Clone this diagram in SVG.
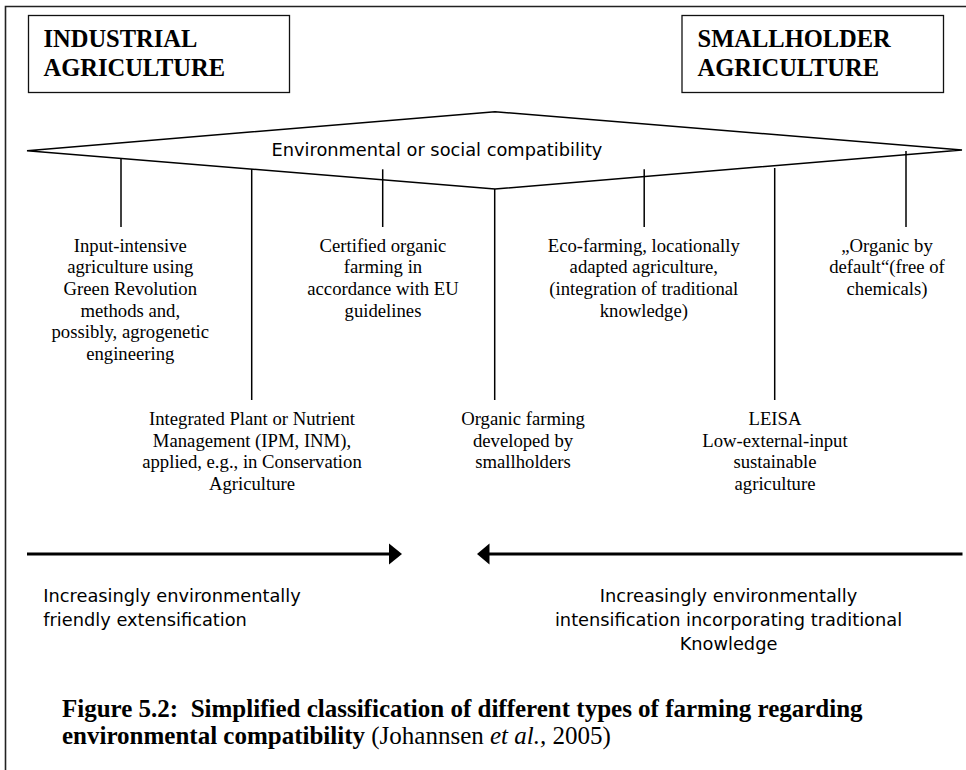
<svg xmlns="http://www.w3.org/2000/svg" width="966" height="770" viewBox="0 0 966 770">
<style>
.frame{fill:none;stroke:#222;stroke-width:1.6}
.box{fill:#fff;stroke:#111;stroke-width:1.3}
.conn{stroke:#000;stroke-width:1.5;fill:none}
.arrow{stroke:#000;stroke-width:3;fill:none}
.head{fill:#000}
.title{font-family:"Liberation Serif","Times New Roman",serif;font-weight:bold;font-size:24.5px;fill:#000}
.lbl{font-family:"Liberation Serif","Times New Roman",serif;font-size:18.7px;fill:#000;text-anchor:middle}
.sans{font-family:"DejaVu Sans",Verdana,sans-serif;font-size:17.8px;fill:#000}
.cap{font-family:"Liberation Serif","Times New Roman",serif;font-size:25px;fill:#000}
</style>
<rect width="966" height="770" fill="#fff"/>
<path class="frame" d="M5.5 770 V6.5 H966"/>

<g id="industrial">
<rect class="box" x="28.5" y="15.5" width="261" height="77"/>
<text class="title" x="43.5" y="47.3">INDUSTRIAL</text>
<text class="title" x="43.5" y="76">AGRICULTURE</text>
</g>

<g id="smallholder">
<rect class="box" x="682" y="15.5" width="261.5" height="77"/>
<text class="title" x="697.5" y="47.3">SMALLHOLDER</text>
<text class="title" x="697.5" y="76">AGRICULTURE</text>
</g>

<g id="compatibility">
<polygon points="27,150.7 495,111.7 962,150 495,189" fill="#fff" stroke="#000" stroke-width="1.5"/>
<text class="sans" x="271.5" y="155.5">Environmental or social compatibility</text>
</g>

<g id="connectors">
<line class="conn" x1="121" y1="158.5" x2="121" y2="227"/>
<line class="conn" x1="251.7" y1="169" x2="251.7" y2="400"/>
<line class="conn" x1="382.7" y1="169.3" x2="382.7" y2="227"/>
<line class="conn" x1="494.7" y1="189" x2="494.7" y2="400"/>
<line class="conn" x1="644.2" y1="169.3" x2="644.2" y2="227"/>
<line class="conn" x1="774.7" y1="168" x2="774.7" y2="400"/>
<line class="conn" x1="906" y1="151" x2="906" y2="227"/>
<line class="arrow" x1="27" y1="554" x2="390" y2="554"/>
<polygon class="head" points="389,543.5 402,554 389,564.5"/>
<line class="arrow" x1="488" y1="554" x2="962.5" y2="554"/>
<polygon class="head" points="477,554 489.5,543.5 489.5,564.5"/>
</g>

<g id="input-intensive">
<text class="lbl" x="130.3" y="251.7">Input-intensive</text>
<text class="lbl" x="130.3" y="273.3">agriculture using</text>
<text class="lbl" x="130.3" y="295">Green Revolution</text>
<text class="lbl" x="130.3" y="316.7">methods and,</text>
<text class="lbl" x="130.3" y="338.3">possibly, agrogenetic</text>
<text class="lbl" x="130.3" y="360">engineering</text>
</g>

<g id="certified-organic">
<text class="lbl" x="383" y="251.7">Certified organic</text>
<text class="lbl" x="383" y="273.3">farming in</text>
<text class="lbl" x="383" y="295">accordance with EU</text>
<text class="lbl" x="383" y="316.7">guidelines</text>
</g>

<g id="eco-farming">
<text class="lbl" x="643.8" y="251.7">Eco-farming, locationally</text>
<text class="lbl" x="643.8" y="273.3">adapted agriculture,</text>
<text class="lbl" x="643.8" y="295">(integration of traditional</text>
<text class="lbl" x="643.8" y="316.7">knowledge)</text>
</g>

<g id="organic-by-default">
<text class="lbl" x="887" y="251.7">„Organic by</text>
<text class="lbl" x="887" y="273.3">default“(free of</text>
<text class="lbl" x="887" y="295">chemicals)</text>
</g>

<g id="ipm-inm">
<text class="lbl" x="252" y="425">Integrated Plant or Nutrient</text>
<text class="lbl" x="252" y="446.7">Management (IPM, INM),</text>
<text class="lbl" x="252" y="468.3">applied, e.g., in Conservation</text>
<text class="lbl" x="252" y="490">Agriculture</text>
</g>

<g id="organic-smallholders">
<text class="lbl" x="523" y="425">Organic farming</text>
<text class="lbl" x="523" y="446.7">developed by</text>
<text class="lbl" x="523" y="468.3">smallholders</text>
</g>

<g id="leisa">
<text class="lbl" x="775" y="425">LEISA</text>
<text class="lbl" x="775" y="446.7">Low-external-input</text>
<text class="lbl" x="775" y="468.3">sustainable</text>
<text class="lbl" x="775" y="490">agriculture</text>
</g>

<g id="extensification">
<text class="sans" x="43.3" y="601.7">Increasingly environmentally</text>
<text class="sans" x="43.3" y="626">friendly extensification</text>
</g>

<g id="intensification">
<text class="sans" x="728.5" y="601.7" text-anchor="middle">Increasingly environmentally</text>
<text class="sans" x="728.5" y="626" text-anchor="middle">intensification incorporating traditional</text>
<text class="sans" x="728.5" y="650" text-anchor="middle">Knowledge</text>
</g>

<g id="caption">
<text class="cap" x="62" y="717.3" font-weight="bold" xml:space="preserve">Figure 5.2:  Simplified classification of different types of farming regarding</text>
<text class="cap" x="62" y="744"><tspan font-weight="bold">environmental compatibility</tspan> (Johannsen <tspan font-style="italic">et al.,</tspan> 2005)</text>
</g>
</svg>
